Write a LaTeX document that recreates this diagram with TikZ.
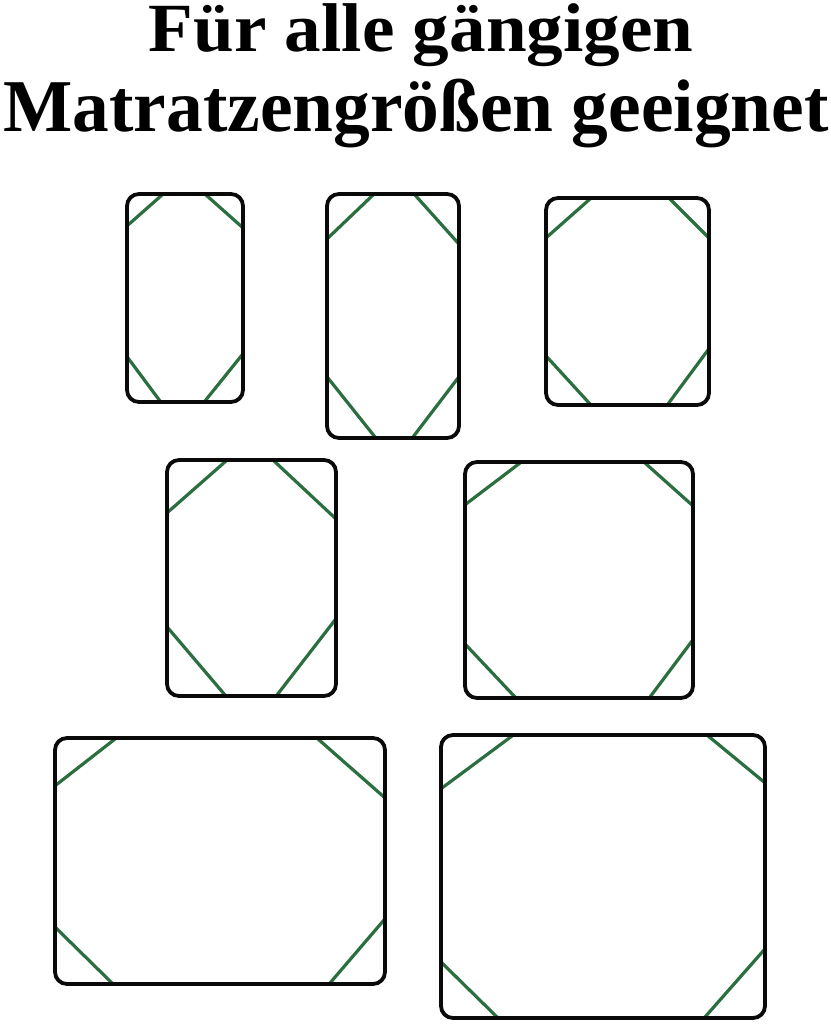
\documentclass[tikz,border=0pt]{standalone}
\usepackage{fontspec}
\newfontfamily\titlefonta{Liberation Serif}[FakeStretch=1.060]
\newfontfamily\titlefontb{Liberation Serif}[FakeStretch=0.985]
\newlength{\du}
\setlength{\du}{1pt}
\definecolor{strapcolor}{rgb}{0.170000, 0.430000, 0.250000}
\definecolor{framecolor}{rgb}{0.040000, 0.040000, 0.040000}

\begin{document}
\begin{tikzpicture}[
  frame/.style={draw=framecolor, line width=3.8\du, rounded corners=12\du},
  strap/.style={draw=strapcolor, line width=3.2\du},
  headline/.style={anchor=base, inner sep=0pt, outer sep=0pt}]
\pgftransformyscale{-1.000000}
\useasboundingbox (0\du,0\du) rectangle (830\du,1024\du);
\fill[white] (0\du,0\du) rectangle (830\du,1024\du);
% title
\node[headline, font=\titlefonta\bfseries\fontsize{69}{72}\selectfont] (title1) at (421\du,52\du) {Für alle gängigen};
\node[headline, font=\titlefontb\bfseries\fontsize{74.5}{78}\selectfont] (title2) at (416\du,132\du) {Matratzengrößen geeignet};
% mattress 1
\draw[strap] (128\du,225\du)--(162\du,195\du);
\draw[strap] (206\du,195\du)--(242\du,227\du);
\draw[strap] (128\du,358\du)--(160\du,401\du);
\draw[strap] (205\du,401\du)--(242\du,355\du);
\draw[frame] (127\du,194\du) rectangle (243\du,402\du);
% mattress 2
\draw[strap] (328\du,238\du)--(373\du,195\du);
\draw[strap] (415\du,195\du)--(458\du,243\du);
\draw[strap] (328\du,378\du)--(375\du,437\du);
\draw[strap] (413\du,437\du)--(458\du,378\du);
\draw[frame] (327\du,194\du) rectangle (459\du,438\du);
% mattress 3
\draw[strap] (547\du,237\du)--(590\du,199\du);
\draw[strap] (670\du,199\du)--(708\du,237\du);
\draw[strap] (547\du,357\du)--(590\du,404\du);
\draw[strap] (668\du,404\du)--(708\du,350\du);
\draw[frame] (546\du,198\du) rectangle (709\du,405\du);
% mattress 4
\draw[strap] (168\du,512\du)--(226\du,461\du);
\draw[strap] (274\du,461\du)--(335\du,518\du);
\draw[strap] (168\du,628\du)--(225\du,695\du);
\draw[strap] (277\du,695\du)--(335\du,620\du);
\draw[frame] (167\du,460\du) rectangle (336\du,696\du);
% mattress 5
\draw[strap] (466\du,504\du)--(520\du,463\du);
\draw[strap] (645\du,463\du)--(692\du,505\du);
\draw[strap] (466\du,645\du)--(515\du,697\du);
\draw[strap] (650\du,697\du)--(692\du,641\du);
\draw[frame] (465\du,462\du) rectangle (693\du,698\du);
% mattress 6
\draw[strap] (56\du,785\du)--(115\du,739\du);
\draw[strap] (318\du,739\du)--(384\du,797\du);
\draw[strap] (56\du,928\du)--(112\du,983\du);
\draw[strap] (330\du,983\du)--(384\du,920\du);
\draw[frame] (55\du,738\du) rectangle (385\du,984\du);
% mattress 7
\draw[strap] (442\du,788\du)--(512\du,736\du);
\draw[strap] (707\du,735\du)--(764\du,782\du);
\draw[strap] (442\du,963\du)--(497\du,1017\du);
\draw[strap] (705\du,1017\du)--(764\du,950\du);
\draw[frame] (441\du,735\du) rectangle (765\du,1018\du);
\end{tikzpicture}
\end{document}
